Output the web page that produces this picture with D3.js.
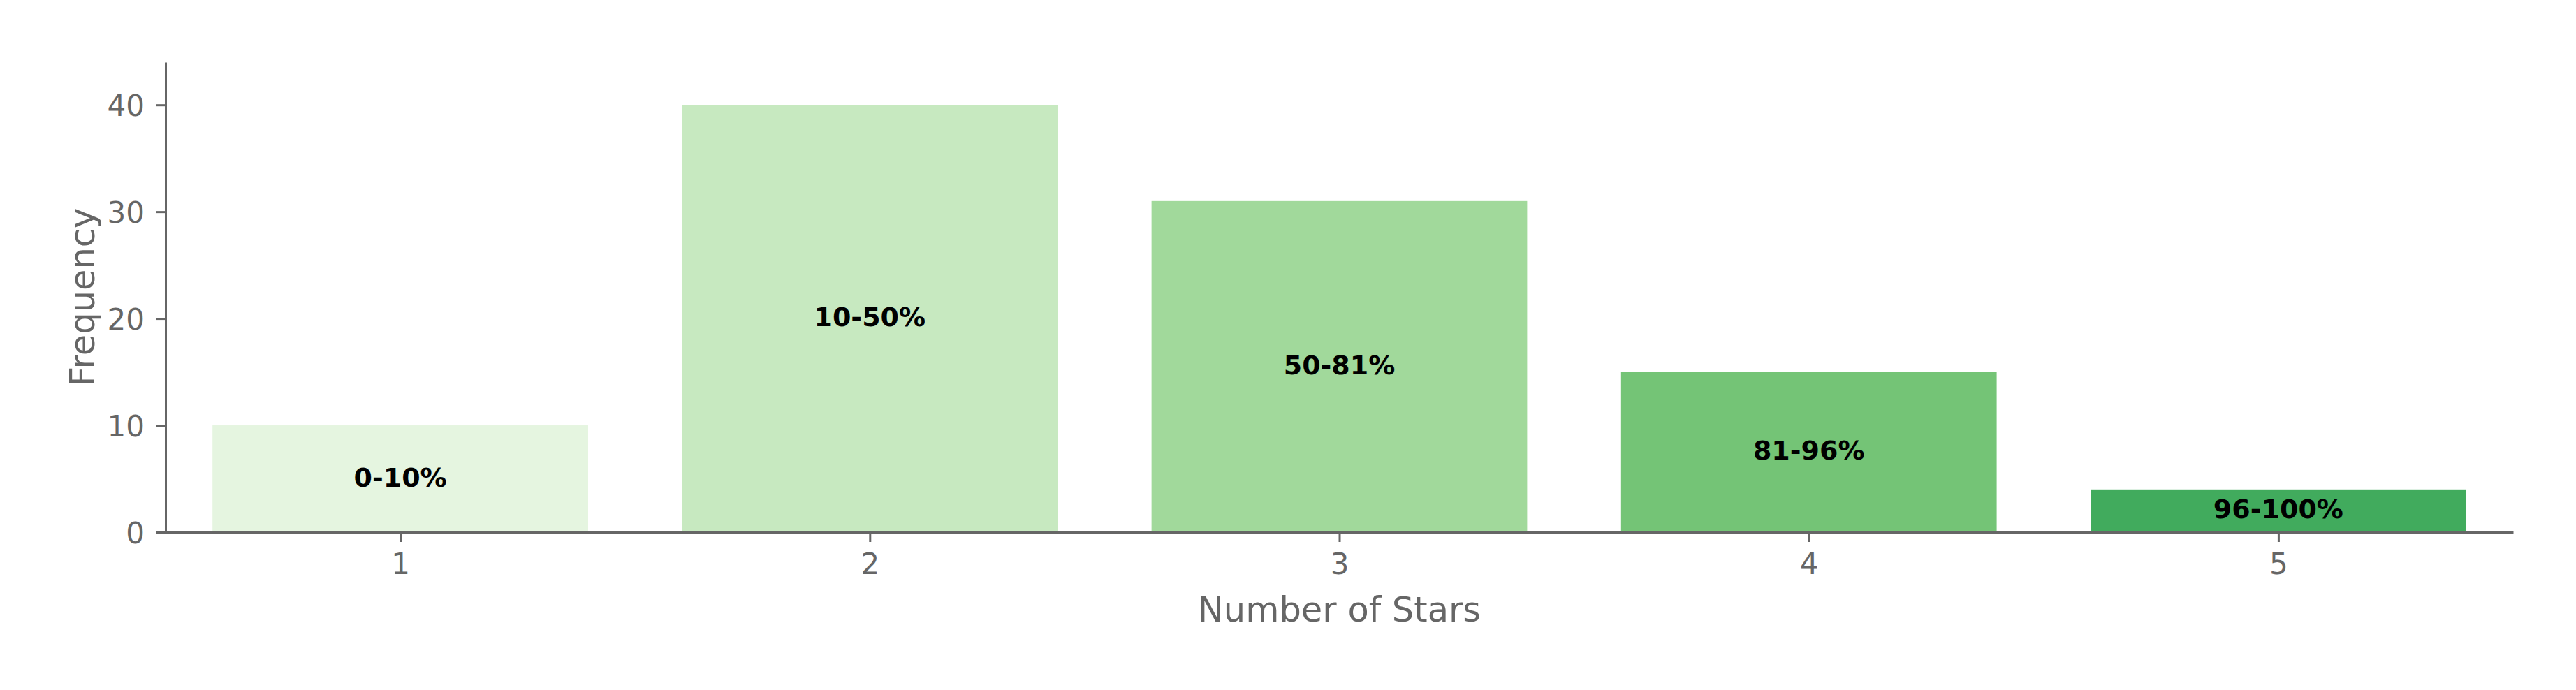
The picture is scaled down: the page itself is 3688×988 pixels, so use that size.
<!DOCTYPE html>
<html>
<head>
<meta charset="utf-8">
<script src="https://cdn.jsdelivr.net/npm/d3@7"></script>
<style>
html,body{margin:0;padding:0;background:#fff;}
svg{display:block;}
</style>
</head>
<body>
<svg id="chart" width="3688" height="988"></svg>
<script>
const stars = [1, 2, 3, 4, 5];
const frequency = [10, 40, 31, 15, 4];
const rangeLabels = ["0-10%", "10-50%", "50-81%", "81-96%", "96-100%"];
const barColors = ["#e5f5e0", "#c7e9c0", "#a1d99b", "#74c476", "#41ab5d"];
const yTicks = [0, 10, 20, 30, 40];

const W = 3688, H = 988;
const m = {left: 237, right: 3598, top: 89, bottom: 762};
const axisColor = "#666666";
const font = "'DejaVu Sans', sans-serif";

const svg = d3.select("#chart");
const x = d3.scaleLinear().domain([0.5, 5.5]).range([m.left, m.right]);
const y = d3.scaleLinear().domain([0, 44]).range([m.bottom, m.top]);
const bw = 0.8;

// bars
svg.append("g").selectAll("rect").data(stars).join("rect")
  .attr("x", (d) => x(d - bw / 2))
  .attr("width", (d) => x(d + bw / 2) - x(d - bw / 2))
  .attr("y", (d, i) => y(frequency[i]))
  .attr("height", (d, i) => y(0) - y(frequency[i]))
  .attr("fill", (d, i) => barColors[i]);

// bar labels
svg.append("g").selectAll("text").data(stars).join("text")
  .attr("x", (d) => x(d))
  .attr("y", (d, i) => y(frequency[i] / 2) - 2)
  .attr("text-anchor", "middle")
  .attr("dominant-baseline", "central")
  .attr("font-family", font)
  .attr("font-weight", "bold")
  .attr("font-size", 38)
  .attr("fill", "#000")
  .text((d, i) => rangeLabels[i]);

// x axis
const xAxis = svg.append("g").attr("transform", `translate(0,${m.bottom})`)
  .call(d3.axisBottom(x).tickValues(stars).tickFormat(d3.format("d")).tickSize(14).tickSizeOuter(0).tickPadding(16));
// y axis
const yAxis = svg.append("g").attr("transform", `translate(${m.left},0)`)
  .call(d3.axisLeft(y).tickValues(yTicks).tickSize(14).tickSizeOuter(0).tickPadding(16));

[xAxis, yAxis].forEach(g => {
  g.select(".domain").attr("stroke", axisColor).attr("stroke-width", 3);
  g.selectAll(".tick line").attr("stroke", axisColor).attr("stroke-width", 3);
  g.selectAll(".tick text").attr("fill", axisColor).attr("font-family", font).attr("font-size", 42);
});
yAxis.selectAll(".tick text").attr("dy", "0.36em");

// axis labels
svg.append("text")
  .attr("x", (m.left + m.right) / 2)
  .attr("y", 890)
  .attr("text-anchor", "middle")
  .attr("font-family", font)
  .attr("font-size", 49.5)
  .attr("fill", axisColor)
  .text("Number of Stars");

svg.append("text")
  .attr("transform", `translate(135,${(m.top + m.bottom) / 2}) rotate(-90)`)
  .attr("text-anchor", "middle")
  .attr("font-family", font)
  .attr("font-size", 49.5)
  .attr("fill", axisColor)
  .text("Frequency");
</script>
</body>
</html>
